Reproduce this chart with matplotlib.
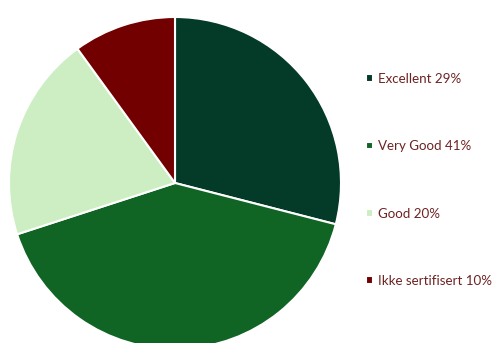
import matplotlib.pyplot as plt

# Data
labels = ["Excellent 29%", "Very Good 41%", "Good 20%", "Ikke sertifisert 10%"]
values = [29, 41, 20, 10]
colors = ["#033A28", "#106424", "#CDEEC2", "#730000"]

plt.rcParams['font.family'] = ['Lato', 'DejaVu Sans']

fig = plt.figure(figsize=(4.96, 3.43), dpi=100)
ax = fig.add_axes([0, 0, 1, 1])
ax.set_xlim(0, 496)
ax.set_ylim(0, 343)
ax.set_aspect('equal')
ax.axis('off')

wedges, _ = ax.pie(values, colors=colors, startangle=90, counterclock=False,
                   center=(175, 160), radius=166,
                   wedgeprops=dict(edgecolor='white', linewidth=1.5))
ax.set_xlim(0, 496)
ax.set_ylim(0, 343)

leg = fig.legend(wedges, labels, loc='upper left', bbox_to_anchor=(354 / 496, 1 - 61 / 343),
                 frameon=False, fontsize=9.6, labelspacing=4.15,
                 handlelength=0.55, handleheight=0.5, handletextpad=0.35)
for t in leg.get_texts():
    t.set_color("#6E2222")

fig.savefig("out.png", dpi=100)
